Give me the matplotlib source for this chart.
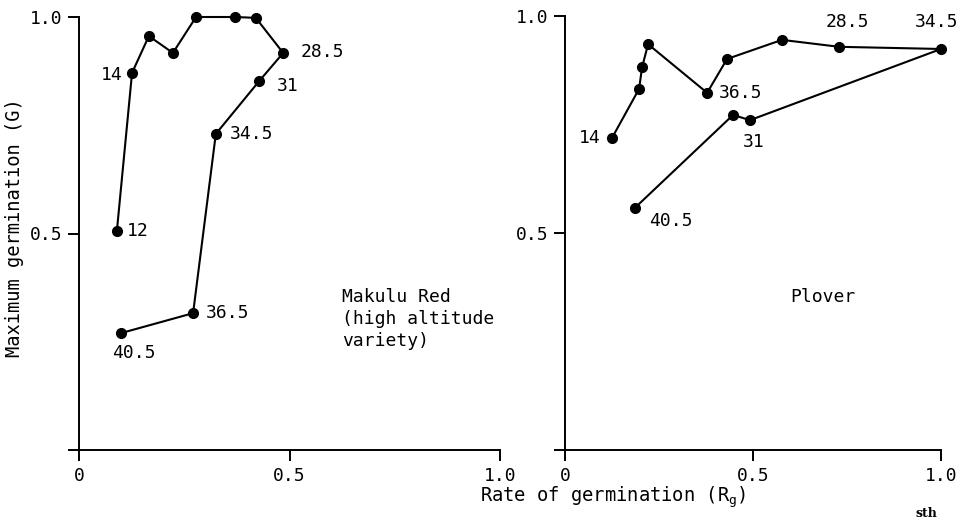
import matplotlib
matplotlib.use("Agg")
import matplotlib.pyplot as plt

plt.rcParams['font.family'] = ['DejaVu Sans Mono', 'DejaVu Sans']
plt.rcParams['mathtext.fontset'] = 'custom'
plt.rcParams['mathtext.rm'] = 'DejaVu Sans Mono'
plt.rcParams['mathtext.it'] = 'DejaVu Sans Mono'

# Makulu Red (high altitude variety): rate of germination vs max germination
makulu_rate = [0.090, 0.126, 0.166, 0.223, 0.278, 0.371, 0.420, 0.485, 0.428, 0.325, 0.271, 0.100]
makulu_germ = [0.506, 0.871, 0.956, 0.917, 1.000, 1.000, 0.998, 0.917, 0.852, 0.730, 0.316, 0.270]
makulu_labels = {0: '12', 1: '14', 7: '28.5', 8: '31', 9: '34.5', 10: '36.5', 11: '40.5'}

# Plover
plover_rate = [0.125, 0.197, 0.205, 0.221, 0.378, 0.431, 0.577, 0.729, 1.000, 0.492, 0.447, 0.186]
plover_germ = [0.719, 0.832, 0.882, 0.935, 0.823, 0.901, 0.945, 0.929, 0.924, 0.760, 0.772, 0.558]
plover_labels = {0: '14', 4: '36.5', 7: '28.5', 8: '34.5', 9: '31', 11: '40.5'}

x_ticks = [0, 0.5, 1.0]
x_ticklabels = ['0', '0.5', '1.0']
y_ticks = [0, 0.5, 1.0]
y_ticklabels = ['', '0.5', '1.0']

# label placement (pixel offsets, horizontal alignment)
makulu_off = {0: (10, 0, 'left'), 1: (-9, -2, 'right'), 7: (17, 1, 'left'),
              8: (18, -5, 'left'), 9: (14, 0, 'left'), 10: (13, 0, 'left'),
              11: (13, -20, 'center')}
plover_off = {0: (-11, 0, 'right'), 4: (12, 0, 'left'), 7: (8, 25, 'center'),
              8: (-4, 27, 'center'), 9: (-7, -22, 'left'), 11: (14, -13, 'left')}

fs = 13
W, H = 973, 523
fig = plt.figure(figsize=(9.73, 5.23), dpi=100)
ax1 = fig.add_axes([79 / W, 73 / H, 421 / W, 433 / H])
ax2 = fig.add_axes([565 / W, 73 / H, 376 / W, 434 / H])


def style(ax):
    ax.set_xlim(0, 1)
    ax.set_ylim(0, 1)
    for s in ['top', 'right']:
        ax.spines[s].set_visible(False)
    for s in ['left', 'bottom']:
        ax.spines[s].set_linewidth(1.4)
    ax.set_xticks(x_ticks)
    ax.set_xticklabels(x_ticklabels)
    ax.set_yticks(y_ticks)
    ax.set_yticklabels(y_ticklabels)
    ax.tick_params(direction='out', length=8, width=1.4, labelsize=fs, pad=4)
    ax.patch.set_visible(False)


def draw(ax, xs, ys, labels, offs):
    ax.plot(xs, ys, color='black', lw=1.5, marker='o', markersize=7, clip_on=False)
    for i, txt in labels.items():
        dx, dy, ha = offs[i]
        ax.annotate(txt, (xs[i], ys[i]), xytext=(dx, dy), textcoords='offset pixels',
                    ha=ha, va='center', fontsize=fs)


style(ax1)
style(ax2)
draw(ax1, makulu_rate, makulu_germ, makulu_labels, makulu_off)
draw(ax2, plover_rate, plover_germ, plover_labels, plover_off)

ax1.text(0.625, 0.375, 'Makulu Red\n(high altitude\nvariety)', fontsize=fs,
         ha='left', va='top', linespacing=1.3)
ax2.text(0.598, 0.353, 'Plover', fontsize=fs, ha='left', va='center')

fig.text(613 / W, 1 - 497 / H, 'Rate of germination (R$_\\mathrm{g}$)', fontsize=13.5,
         ha='center', va='center')
fig.text(15 / W, 1 - 228 / H, 'Maximum germination (G)', fontsize=13.5,
         rotation=90, ha='center', va='center')
# fragment of the next page line visible in the scan
fig.text(915 / W, 3 / H, 'sth', fontsize=9, fontweight='bold', family='serif',
         ha='left', va='bottom')

fig.savefig('out.png', dpi=100)
